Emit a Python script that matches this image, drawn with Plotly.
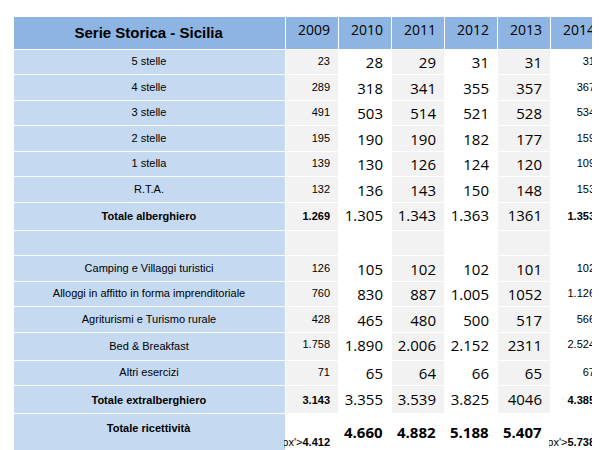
import plotly.graph_objects as go

categorie = ["5 stelle", "4 stelle", "3 stelle", "2 stelle", "1 stella", "R.T.A.",
             "<b>Totale alberghiero</b>", "",
             "Camping e Villaggi turistici", "Alloggi in affitto in forma imprenditoriale",
             "Agriturismi e Turismo rurale", "Bed & Breakfast", "Altri esercizi",
             "<b>Totale extralberghiero</b>", "<b>Totale ricettività</b>"]
anni = ["2009", "2010", "2011", "2012", "2013", "2014"]
v2009 = ["23", "289", "491", "195", "139", "132", "<b>1.269</b>", "", "126", "760", "428", "1.758", "71", "<b>3.143</b>",
         "<span style='font-size:15px'><b>4.412</b></span>"]
v2010 = ["28", "318", "503", "190", "130", "136", "1.305", "", "105", "830", "465", "1.890", "65", "3.355", "<b>4.660</b>"]
v2011 = ["29", "341", "514", "190", "126", "143", "1.343", "", "102", "887", "480", "2.006", "64", "3.539", "<b>4.882</b>"]
v2012 = ["31", "355", "521", "182", "124", "150", "1.363", "", "102", "1.005", "500", "2.152", "66", "3.825", "<b>5.188</b>"]
v2013 = ["31", "357", "528", "177", "120", "148", "1361", "", "101", "1052", "517", "2311", "65", "4046", "<b>5.407</b>"]
v2014 = ["31", "367", "534", "159", "109", "153", "<b>1.353</b>", "", "102", "1.126", "566", "2.524", "67", "<b>4.385</b>",
         "<span style='font-size:15px'><b>5.738</b></span>"]

n = len(categorie)
blu = "#c5d9f1"
grigio = "#f2f2f2"
bianco = "#ffffff"

def col_fill(c):
    return [c] * (n - 1) + [bianco]

fills = [[blu] * n, col_fill(grigio), col_fill(bianco), col_fill(grigio),
         col_fill(bianco), col_fill(grigio), col_fill(bianco)]

fig = go.Figure(go.Table(
    columnwidth=[272, 53, 53, 53, 53, 53, 53],
    header=dict(
        values=["<b>Serie Storica - Sicilia</b>"] + anni,
        fill_color="#8db4e2",
        line=dict(color="white", width=1),
        align=["center"] + ["right"] * 6,
        font=dict(family=["Liberation Sans"] + ["Open Sans"] * 6,
                  size=[15] + [14] * 6, color="black"),
        height=28,
    ),
    cells=dict(
        values=[categorie, v2009, v2010, v2011, v2012, v2013, v2014],
        fill_color=fills,
        line=dict(color="white", width=1),
        align=["center"] + ["right"] * 6,
        font=dict(family=["Liberation Sans", "Liberation Sans", "Open Sans", "Open Sans",
                          "Open Sans", "Open Sans", "Liberation Sans"],
                  size=[11, 11, 15, 15, 15, 15, 11],
                  color="black"),
        height=25.5,
    ),
))
fig.update_layout(width=600, height=450, margin=dict(l=5, r=5, t=8, b=2),
                  paper_bgcolor="white")
fig.write_html("out.html")
